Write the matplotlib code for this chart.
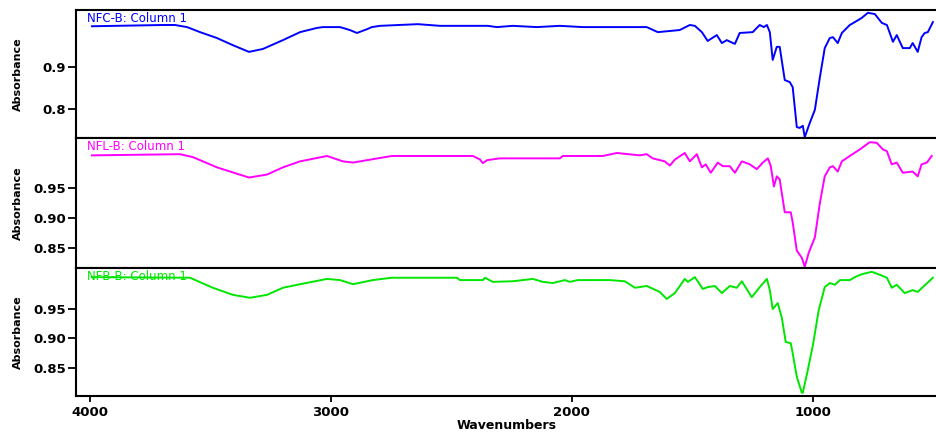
import matplotlib
matplotlib.use('Agg')
import matplotlib.pyplot as plt

# NFC-B spectrum (wavenumber, absorbance)
nfc_wn = [3992, 3697, 3647, 3597, 3543, 3473, 3407, 3340, 3282, 3199, 3128, 3058, 3033, 2962,
          2921, 2892, 2850, 2830, 2796, 2639, 2547, 2349, 2311, 2245, 2145, 2050, 1954, 1801,
          1689, 1643, 1552, 1510, 1489, 1460, 1436, 1398, 1377, 1357, 1323, 1303, 1249, 1220,
          1203, 1190, 1178, 1166, 1149, 1137, 1116, 1095, 1083, 1066, 1054, 1041, 1033, 1012,
          991, 970, 950, 929, 916, 896, 879, 846, 825, 796, 771, 742, 713, 692, 680, 667, 651,
          626, 597, 585, 564, 548, 535, 522, 501]
nfc_abs = [0.997, 1.000, 1.000, 0.995, 0.983, 0.969, 0.952, 0.936, 0.943, 0.964, 0.983, 0.993,
           0.995, 0.995, 0.988, 0.981, 0.990, 0.995, 0.998, 1.002, 0.998, 0.998, 0.995, 0.998,
           0.995, 0.998, 0.995, 0.995, 0.995, 0.983, 0.988, 1.000, 0.998, 0.983, 0.962, 0.976,
           0.957, 0.964, 0.955, 0.981, 0.983, 1.000, 0.995, 1.000, 0.983, 0.917, 0.948, 0.948,
           0.869, 0.864, 0.852, 0.757, 0.755, 0.760, 0.733, 0.767, 0.798, 0.876, 0.945, 0.969,
           0.971, 0.957, 0.981, 1.000, 1.007, 1.017, 1.029, 1.026, 1.005, 1.000, 0.981, 0.960,
           0.976, 0.945, 0.945, 0.957, 0.936, 0.971, 0.981, 0.983, 1.007]

# NFL-B spectrum
nfl_wn = [3992, 3626, 3572, 3473, 3340, 3265, 3199, 3128, 3016, 2950, 2908, 2850, 2747, 2410,
          2381, 2369, 2352, 2299, 2050, 2037, 1871, 1813, 1718, 1689, 1664, 1614, 1593, 1572,
          1531, 1510, 1481, 1460, 1444, 1423, 1394, 1373, 1344, 1323, 1294, 1261, 1232, 1207,
          1186, 1174, 1161, 1149, 1137, 1116, 1091, 1083, 1066, 1045, 1033, 1016, 991, 970, 950,
          929, 916, 896, 879, 846, 804, 763, 734, 709, 692, 672, 651, 626, 585, 564, 548, 526, 506]
nfl_abs = [1.004, 1.006, 1.001, 0.984, 0.967, 0.972, 0.984, 0.994, 1.003, 0.994, 0.992, 0.996,
           1.003, 1.003, 0.997, 0.991, 0.996, 0.999, 0.999, 1.003, 1.003, 1.008, 1.004, 1.006,
           0.999, 0.994, 0.987, 0.997, 1.008, 0.994, 1.006, 0.984, 0.989, 0.975, 0.992, 0.986,
           0.986, 0.975, 0.994, 0.989, 0.981, 0.992, 0.999, 0.986, 0.952, 0.969, 0.964, 0.909,
           0.909, 0.892, 0.845, 0.833, 0.818, 0.842, 0.867, 0.925, 0.969, 0.984, 0.986, 0.977,
           0.994, 1.003, 1.014, 1.026, 1.025, 1.014, 1.011, 0.989, 0.992, 0.975, 0.977, 0.969,
           0.989, 0.992, 1.003]

# NFB-B spectrum
nfb_wn = [3992, 3585, 3490, 3407, 3336, 3265, 3199, 3128, 3016, 2962, 2908, 2826, 2747, 2477,
          2464, 2369, 2360, 2328, 2245, 2162, 2120, 2079, 2029, 2008, 1975, 1842, 1780, 1738,
          1689, 1635, 1606, 1572, 1531, 1518, 1489, 1456, 1436, 1406, 1377, 1344, 1315, 1294,
          1253, 1220, 1190, 1178, 1166, 1145, 1128, 1112, 1091, 1083, 1066, 1045, 1041, 1020,
          999, 975, 950, 929, 908, 887, 846, 825, 796, 755, 721, 692, 672, 651, 618, 585, 564,
          543, 501]
nfb_abs = [1.004, 1.003, 0.986, 0.974, 0.969, 0.974, 0.986, 0.992, 1.001, 0.999, 0.992, 0.999,
           1.003, 1.003, 0.999, 0.999, 1.003, 0.996, 0.997, 1.001, 0.996, 0.994, 0.999, 0.996,
           0.999, 0.999, 0.997, 0.986, 0.989, 0.979, 0.967, 0.977, 1.001, 0.996, 1.004, 0.984,
           0.987, 0.989, 0.977, 0.989, 0.986, 0.997, 0.970, 0.987, 1.001, 0.982, 0.950, 0.960,
           0.935, 0.894, 0.892, 0.875, 0.835, 0.808, 0.808, 0.847, 0.889, 0.948, 0.987, 0.994,
           0.991, 0.999, 0.999, 1.004, 1.009, 1.013, 1.008, 1.003, 0.986, 0.991, 0.977, 0.982,
           0.979, 0.987, 1.003]

panels = [
    ('NFC-B: Column 1', nfc_wn, nfc_abs, '#0000ff', (0.731, 1.0357), [0.8, 0.9], ['0.8', '0.9']),
    ('NFL-B: Column 1', nfl_wn, nfl_abs, '#ff00ff', (0.816, 1.033), [0.85, 0.90, 0.95], ['0.85', '0.90', '0.95']),
    ('NFB-B: Column 1', nfb_wn, nfb_abs, '#00e600', (0.8025, 1.0195), [0.85, 0.90, 0.95], ['0.85', '0.90', '0.95']),
]
x_ticks = [4000, 3000, 2000, 1000]

W, H = 937, 433
fig = plt.figure(figsize=(W / 100, H / 100), dpi=100)
rows = [(10, 138), (138, 268), (268, 396)]
left = 76 / W

for i, (name, wn, ab, col, ylim, yt, ytl) in enumerate(panels):
    top, bot = rows[i]
    ax = fig.add_axes([left, 1 - bot / H, 1 - left, (bot - top) / H])
    ax.plot(wn, ab, color=col, linewidth=1.4)
    ax.set_xlim(4058, 484)
    ax.set_ylim(*ylim)
    ax.set_yticks(yt)
    ax.set_yticklabels(ytl, fontsize=9.5, fontweight='bold')
    ax.spines['right'].set_visible(False)
    for s in ['left', 'top', 'bottom']:
        ax.spines[s].set_linewidth(1.5)
    ax.tick_params(axis='y', direction='out', length=6, width=1.3, pad=1)
    ax.set_ylabel('Absorbance', fontsize=8, fontweight='bold')
    ax.yaxis.set_label_coords(-0.062, 0.5)
    ax.text(0.013, 0.985, name, color=col, fontsize=8.5, transform=ax.transAxes, va='top', ha='left')
    ax.set_xticks(x_ticks)
    if i < 2:
        ax.tick_params(axis='x', bottom=False, labelbottom=False)
    else:
        ax.set_xticklabels([str(t) for t in x_ticks], fontsize=9.5, fontweight='bold')
        ax.tick_params(axis='x', direction='out', length=4, width=1.3, pad=3)
        ax.set_xlabel('Wavenumbers', fontsize=9, fontweight='bold', labelpad=0)

fig.savefig('out.png', dpi=100)
